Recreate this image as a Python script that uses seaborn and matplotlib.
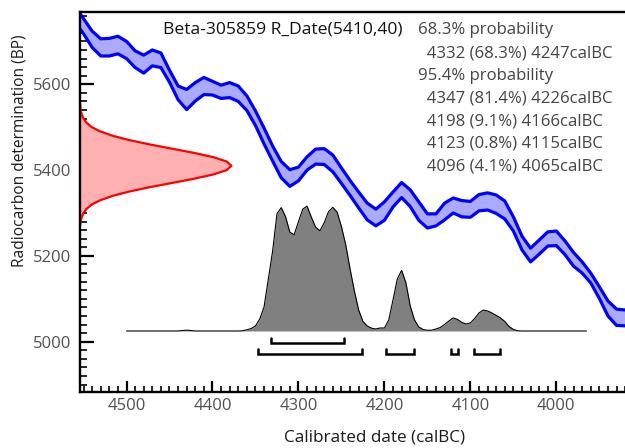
import numpy as np
import pandas as pd
import matplotlib
matplotlib.use("Agg")
import matplotlib.pyplot as plt
import seaborn as sns
from matplotlib.ticker import MultipleLocator

# ---------------- data ----------------
cal_years = [4555, 4550, 4540, 4530, 4520, 4510, 4500, 4490, 4480, 4470, 4460, 4450,
             4440, 4430, 4420, 4410, 4400, 4390, 4380, 4370, 4360, 4350, 4340, 4330,
             4320, 4310, 4300, 4290, 4280, 4270, 4260, 4250, 4240, 4230, 4220, 4210,
             4200, 4190, 4180, 4170, 4160, 4150, 4140, 4130, 4120, 4110, 4100, 4090,
             4080, 4070, 4060, 4050, 4040, 4030, 4020, 4010, 4000, 3990, 3980, 3970,
             3960, 3950, 3940, 3930, 3920, 3910]
curve_upper = [5768, 5753, 5724, 5706, 5707, 5712, 5700, 5678, 5668, 5680, 5673, 5633,
               5596, 5588, 5604, 5616, 5607, 5598, 5604, 5596, 5573, 5538, 5498, 5456,
               5420, 5401, 5407, 5431, 5449, 5450, 5435, 5405, 5376, 5349, 5323, 5309,
               5326, 5349, 5371, 5354, 5326, 5298, 5298, 5323, 5335, 5329, 5327, 5343,
               5347, 5342, 5328, 5291, 5246, 5218, 5237, 5256, 5258, 5235, 5208, 5186,
               5160, 5128, 5095, 5076, 5074, 5074]
curve_lower = [5731, 5718, 5686, 5666, 5666, 5671, 5660, 5639, 5626, 5643, 5639, 5605,
               5564, 5541, 5561, 5576, 5575, 5567, 5569, 5560, 5539, 5504, 5461, 5421,
               5382, 5362, 5375, 5400, 5414, 5413, 5396, 5369, 5341, 5312, 5284, 5270,
               5283, 5314, 5336, 5315, 5283, 5265, 5270, 5284, 5300, 5291, 5290, 5305,
               5307, 5299, 5286, 5258, 5214, 5186, 5204, 5223, 5224, 5203, 5176, 5160,
               5137, 5101, 5060, 5038, 5037, 5039]

# measured radiocarbon date (relative probability on the BP axis)
bp_values = [5555, 5550, 5540, 5530, 5520, 5510, 5500, 5490, 5480, 5470, 5460, 5450,
             5440, 5430, 5420, 5410, 5400, 5390, 5380, 5370, 5360, 5350, 5340, 5330,
             5320, 5310, 5300, 5290, 5280, 5270]
bp_prob = [0.0, 0.002, 0.005, 0.011, 0.023, 0.044, 0.079, 0.135, 0.216, 0.325, 0.458, 0.607,
           0.755, 0.882, 0.969, 1.0, 0.969, 0.882, 0.755, 0.607, 0.458, 0.325, 0.216, 0.135,
           0.079, 0.044, 0.023, 0.011, 0.005, 0.0]

# calibrated (posterior) distribution
post_years = [4500, 4440, 4435, 4430, 4425, 4420, 4380, 4370, 4365, 4360, 4355, 4350,
              4345, 4340, 4335, 4330, 4325, 4320, 4315, 4310, 4305, 4300, 4295, 4290,
              4285, 4280, 4275, 4270, 4265, 4260, 4255, 4250, 4245, 4240, 4235, 4230,
              4225, 4220, 4215, 4210, 4205, 4200, 4195, 4190, 4185, 4180, 4175, 4170,
              4165, 4160, 4155, 4150, 4145, 4140, 4135, 4130, 4125, 4120, 4115, 4110,
              4105, 4100, 4095, 4090, 4085, 4080, 4075, 4070, 4065, 4060, 4055, 4050,
              4045, 4040, 3965]
post_prob = [0, 0, 0.5, 0.8, 0.5, 0, 0, 0, 0.2, 1.2, 2.5, 5,
             12, 24, 52, 80, 117, 123, 114, 98.5, 96, 109, 121.5, 124.5,
             113.5, 103.5, 100, 108, 119, 123.3, 118.5, 104, 86, 62, 40, 21,
             9.5, 5, 2.8, 2, 3, 3, 11, 31, 52, 60.5, 48, 25,
             11, 4, 1.5, 0.7, 0.8, 2, 3.5, 6.5, 10, 13, 11.5, 8.5,
             7, 8, 12.5, 18, 20.8, 20, 18, 15.5, 13, 9.5, 4.5, 1.5,
             0.2, 0, 0]

range68_from = [4332]
range68_to = [4247]
range95_from = [4347, 4198, 4123, 4096]
range95_to = [4226, 4166, 4115, 4065]

title_text = "Beta-305859 R_Date(5410,40)"
prob_lines = ["68.3% probability",
              "  4332 (68.3%) 4247calBC",
              "95.4% probability",
              "  4347 (81.4%) 4226calBC",
              "  4198 (9.1%) 4166calBC",
              "  4123 (0.8%) 4115calBC",
              "  4096 (4.1%) 4065calBC"]
x_label = "Calibrated date (calBC)"
y_label = "Radiocarbon determination (BP)"

# ---------------- plot ----------------
sns.set_style("white")
plt.rcParams["font.family"] = ["Open Sans", "DejaVu Sans"]

W, H = 625, 448
fig = plt.figure(figsize=(W / 100, H / 100), dpi=100)
ax = fig.add_axes([80 / W, 1 - 392 / H, 1 - 80 / W + 0.01, 380 / H])

xlim = (4554.1, 3912.9)
ylim = (4882.8, 5768.5)
ax.set_xlim(*xlim)
ax.set_ylim(*ylim)

# measured date on the y axis
bp_arr = np.array(bp_values)
bp_w = np.array(bp_prob) * 149.7 / 0.85  # width in years
x0 = xlim[0]
ax.fill_betweenx(bp_arr, x0, x0 - bp_w, color="#ffb0b0", lw=0, zorder=2)
ax.plot(x0 - bp_w, bp_arr, color="#ff0000", lw=1.6, zorder=3, solid_joinstyle="round")

# calibration curve band
cal = pd.DataFrame({"year": cal_years, "upper": curve_upper, "lower": curve_lower})
ax.fill_between(cal["year"], cal["lower"], cal["upper"], color="#aaaaff", lw=0, zorder=4)
sns.lineplot(data=cal, x="year", y="upper", ax=ax, color="#0000ff", lw=2.3,
             estimator=None, zorder=5)
sns.lineplot(data=cal, x="year", y="lower", ax=ax, color="#0000ff", lw=2.3,
             estimator=None, zorder=5)

# posterior
post = pd.DataFrame({"year": post_years, "p": post_prob})
base = 5025.0
scale = 291.0 / max(post_prob)
post["y"] = base + post["p"] * scale
ax.fill_between(post["year"], base, post["y"], color="#808080", lw=0, zorder=6)
sns.lineplot(data=post, x="year", y="y", ax=ax, color="black", lw=0.8,
             estimator=None, zorder=7)

# range brackets
def bracket(a, b, level, tip):
    ax.plot([a, a, b, b], [tip, level, level, tip], color="black", lw=1.8,
            solid_joinstyle="miter", zorder=8)

for a, b in zip(range68_from, range68_to):
    bracket(a, b, 4996.5, 5008.5)
for a, b in zip(range95_from, range95_to):
    bracket(a, b, 4971, 4982.5)

# axes styling
ax.spines["right"].set_visible(False)
for s in ["left", "top", "bottom"]:
    ax.spines[s].set_linewidth(1.7)
    ax.spines[s].set_color("black")
    ax.spines[s].set_zorder(10)

ax.xaxis.set_major_locator(MultipleLocator(100))
ax.xaxis.set_minor_locator(MultipleLocator(10))
ax.yaxis.set_major_locator(MultipleLocator(200))
ax.yaxis.set_minor_locator(MultipleLocator(20))
ax.tick_params(axis="both", which="both", direction="in", colors="black",
               labelcolor="#505050", labelsize=12)
ax.tick_params(axis="x", which="major", length=8, width=1.6, pad=4, top=False, bottom=True)
ax.tick_params(axis="x", which="minor", length=4, width=1.2, top=False, bottom=True)
ax.tick_params(axis="y", which="major", length=10, width=1.6, pad=6, right=False, left=True)
ax.tick_params(axis="y", which="minor", length=5, width=1.2, right=False, left=True)
ax.set_xlabel("")
ax.set_ylabel("")
ax.grid(False)

# texts
fig.text(163 / W, 1 - 30 / H, title_text, ha="left", va="center", fontsize=12.6,
         color="#111111")
for i, line in enumerate(prob_lines):
    fig.text(418 / W, 1 - (30.5 + 22.7 * i) / H, line, ha="left", va="center",
             fontsize=12.1, color="#444444")
fig.text(375 / W, 1 - 437 / H, x_label, ha="center", va="center", fontsize=12.3,
         color="#1a1a1a")
fig.text(20 / W, 1 - 151 / H, y_label, ha="center", va="center", rotation=90,
         fontsize=11.2, color="#1a1a1a")

fig.savefig("out.png", dpi=100)
